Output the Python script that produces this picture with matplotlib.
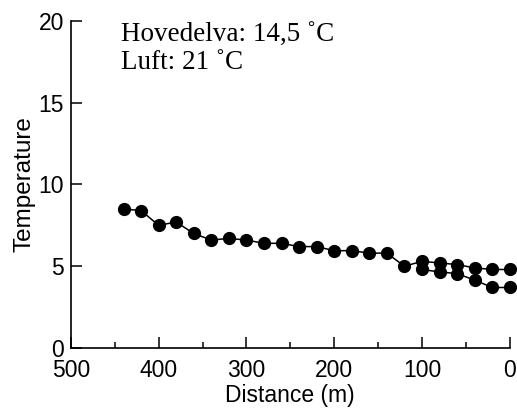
import matplotlib
matplotlib.use("Agg")
import matplotlib.pyplot as plt
from matplotlib.ticker import MultipleLocator

# upstream series (full reach) and the lower branch near the outlet
dist_a = [440, 420, 400, 380, 360, 340, 320, 300, 280, 260, 240, 220,
          200, 180, 160, 140, 120, 100, 80, 60, 40, 20, 0]
temp_a = [8.5, 8.4, 7.5, 7.7, 7.0, 6.6, 6.7, 6.6, 6.4, 6.4, 6.2, 6.2,
          5.95, 5.95, 5.8, 5.8, 5.0, 5.3, 5.2, 5.1, 4.9, 4.8, 4.8]
dist_b = [100, 80, 60, 40, 20, 0]
temp_b = [4.8, 4.65, 4.55, 4.15, 3.7, 3.7]

notes = ["Hovedelva: 14,5 \u02daC", "Luft: 21 \u02daC"]

plt.rcParams["font.family"] = ["Liberation Sans", "DejaVu Sans"]

fig = plt.figure(figsize=(5.17, 4.08), dpi=100)
ax = fig.add_axes([0.137, 0.147, 0.849, 0.802])

for d, t in [(dist_a, temp_a), (dist_b, temp_b)]:
    ax.plot(d, t, color="black", lw=1.1, marker="o", ms=8.5,
            clip_on=False)

ax.set_xlim(500, 0)
ax.set_ylim(0, 20)
ax.xaxis.set_major_locator(MultipleLocator(100))
ax.xaxis.set_minor_locator(MultipleLocator(50))
ax.yaxis.set_major_locator(MultipleLocator(5))
ax.tick_params(which="both", direction="in", width=1.1, labelsize=16.5,
               top=False, right=False)
ax.tick_params(axis="x", pad=8)
ax.tick_params(axis="y", pad=5)
ax.tick_params(which="major", length=8)
ax.tick_params(which="minor", length=4)
for s in ("top", "right"):
    ax.spines[s].set_visible(False)
for s in ("left", "bottom"):
    ax.spines[s].set_linewidth(1.2)

ax.set_xlabel("Distance (m)", fontsize=16.5, labelpad=1)
ax.set_ylabel("Temperature", fontsize=17.5, labelpad=2)

ax.text(0.115, 0.995, notes[0], transform=ax.transAxes, fontsize=19.5,
        family=["Liberation Serif", "DejaVu Serif"], va="top")
ax.text(0.115, 0.91, notes[1], transform=ax.transAxes, fontsize=19.5,
        family=["Liberation Serif", "DejaVu Serif"], va="top")

fig.savefig("out.png", dpi=100, facecolor="white")
